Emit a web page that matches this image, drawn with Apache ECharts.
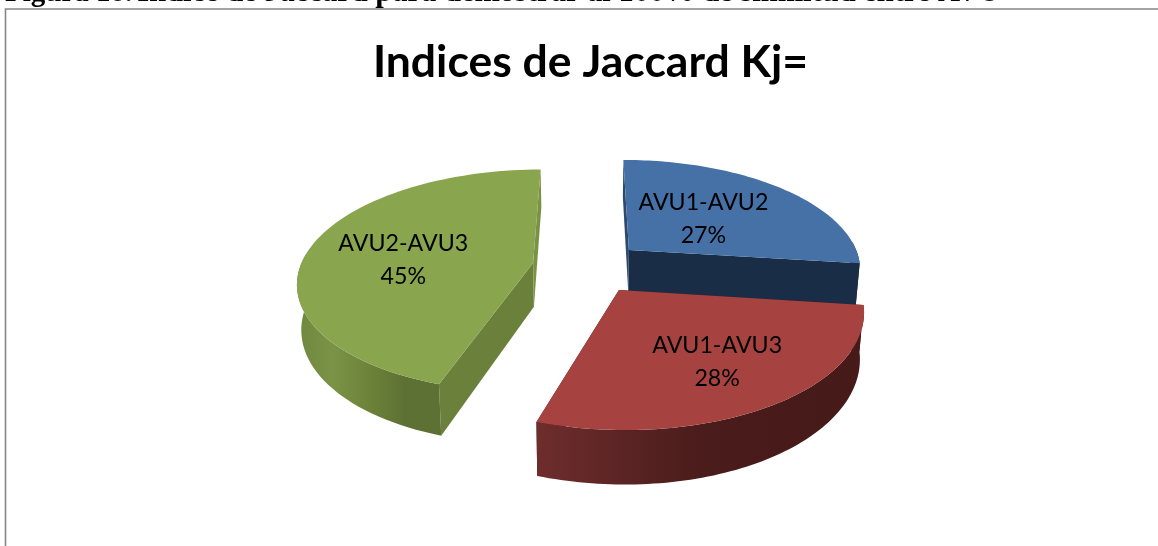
<!DOCTYPE html>
<html>
<head>
<meta charset="utf-8">
<style>
  html, body { margin: 0; padding: 0; background: #fff; }
  #chart { width: 1158px; height: 546px; }
</style>
<script src="https://cdn.jsdelivr.net/npm/echarts@6/dist/echarts.min.js"></script>
</head>
<body>
<div id="chart"></div>
<script>
  const categories = ['AVU1-AVU2', 'AVU1-AVU3', 'AVU2-AVU3'];
  const percents = [27, 28, 45];
  const chartTitle = 'Indices de Jaccard Kj=';

  // colores: cara superior, paredes de corte, pared exterior (izq -> der)
  const topColors = ['#4671A6', '#A64341', '#89A54E'];
  const startWallColors = ['#2C4A70', '#431A18', '#6B803A'];
  const endWallColors = ['#1A2D47', '#431A18', '#7A9245'];
  const outerColors = [
    ['#1A2D47', '#1A2D47'],
    ['#6E2D2D', '#4A1C1B', '#451A19'],
    ['#6F883F', '#7A9346', '#6C8239', '#5E7134', '#5E7134']
  ];
  const labelRadius = [0.45, 0.68, 0.55];
  const labelNudge = [[3, -1], [-2, -2], [-6.5, 6.5]];

  // proyeccion del disco
  const cx = 588, cy = 267, R = 233, tilt = 0.47, persp = 0.16;
  const explode = 0.24, depth = 44, bottomShrink = 0.985;

  function project(u, v) {
    const w = 1 / (1 - persp * v);
    return [cx + R * u * w, cy + R * tilt * v * w, w];
  }
  function lower(p) {
    return [cx + (p[0] - cx) * bottomShrink, p[1] + depth * p[2]];
  }

  const total = percents.reduce((a, b) => a + b, 0);
  let acc = 0;
  const slices = percents.map((val) => {
    const start = (acc / total) * Math.PI * 2;
    acc += val;
    const end = (acc / total) * Math.PI * 2;
    return { start, end, mid: (start + end) / 2 };
  });

  function renderItem(params, api) {
    const i = params.dataIndex;
    const s = slices[i];
    const ou = explode * Math.sin(s.mid);
    const ov = -explode * Math.cos(s.mid);
    const apex = project(ou, ov);

    const arc = [];
    const front = []; // solo la parte del arco que mira al frente lleva pared
    const steps = 80;
    for (let k = 0; k <= steps; k++) {
      const t = s.start + ((s.end - s.start) * k) / steps;
      const p = project(ou + Math.sin(t), ov - Math.cos(t));
      arc.push(p);
      if (Math.cos(t) < 0.1) front.push(p);
    }
    const first = arc[0];
    const last = arc[arc.length - 1];
    const xy = (p) => [p[0], p[1]];

    const poly = (points, fill) => ({
      type: 'polygon',
      shape: { points: points.map(xy) },
      style: { fill: fill, stroke: null }
    });
    const gradient = (stops) => new echarts.graphic.LinearGradient(0, 0, 1, 0,
      stops.map((c, idx) => ({ offset: idx / (stops.length - 1), color: c })));

    const children = [
      poly([apex, first, lower(first), lower(apex)], startWallColors[i]),
      poly([apex, last, lower(last), lower(apex)], endWallColors[i]),
      poly(front.concat(front.slice().reverse().map(lower)), gradient(outerColors[i])),
      poly([apex].concat(arc), topColors[i])
    ];

    const lr = explode + labelRadius[i];
    const lp = project(lr * Math.sin(s.mid), -lr * Math.cos(s.mid));
    children.push({
      type: 'text',
      x: lp[0] + labelNudge[i][0],
      y: lp[1] + labelNudge[i][1],
      style: {
        text: api.value(0) + '\n' + api.value(1) + '%',
        font: '23.2px Lato',
        lineHeight: 33,
        fill: '#000',
        align: 'center',
        verticalAlign: 'middle'
      }
    });
    return { type: 'group', children: children };
  }

  const chart = echarts.init(document.getElementById('chart'), null, { renderer: 'canvas' });
  chart.setOption({
    animation: false,
    backgroundColor: '#fff',
    title: [
      {
        text: chartTitle,
        left: 585.5,
        top: 35,
        textAlign: 'center',
        textStyle: { fontFamily: 'Lato', fontSize: 44.5, fontWeight: 'bold', color: '#000' }
      },
      {
        text: '{b|Figura 18.} {n|Índice de Jaccard para demostrar al 100% de similitud entre AVU}',
        left: 5,
        top: -22,
        padding: 0,
        textStyle: {
          rich: {
            b: { fontFamily: 'Liberation Serif', fontSize: 29, fontWeight: 'bold', color: '#000' },
            n: { fontFamily: 'Liberation Serif', fontSize: 30.5, color: '#000' }
          }
        }
      }
    ],
    graphic: [
      {
        type: 'polyline',
        silent: true,
        shape: { points: [[5.5, 546], [5.5, 9], [1158, 9]] },
        style: { stroke: '#868686', lineWidth: 1.6, fill: null }
      }
    ],
    series: [
      {
        type: 'custom',
        coordinateSystem: 'none',
        renderItem: renderItem,
        silent: true,
        data: categories.map((c, i) => [c, percents[i]])
      }
    ]
  });
</script>
</body>
</html>
